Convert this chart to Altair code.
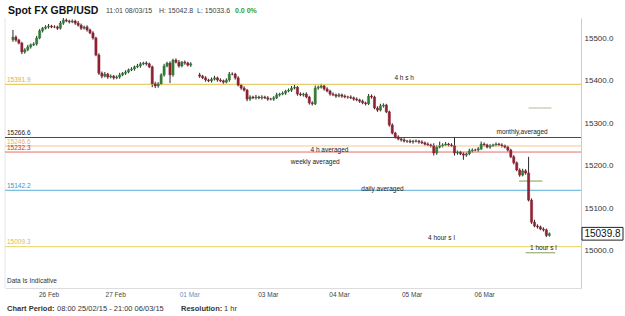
import altair as alt
import pandas as pd

# ---------------- data (hourly slots, None = weekend gap) ----------------
close = [
    15503, 15496, 15489, 15468, 15473, 15480, 15485, 15487, 15501, 15518,
    15524, 15527, 15529, 15527, 15527, 15524, 15536, 15543, 15541, 15539,
    15541, 15536, 15531, 15524, 15527, 15520, 15513, 15501, 15461, 15418,
    15411, 15416, 15409, 15411, 15407, 15409, 15414, 15418, 15421, 15426,
    15428, 15433, 15435, 15440, 15442, 15440, 15433, 15393, 15388, 15393,
    15414, 15435, 15442, 15414, 15449, 15444, 15435, 15444, 15442, 15437,
    15440, None, None, 15411, 15407, 15402, 15400, 15404, 15407, 15402,
    15400, 15397, 15402, 15416, 15416, 15407, 15390, 15383, 15378, 15357,
    15362, 15360, 15362, 15360, 15362, 15360, 15357, 15357, 15360, 15367,
    15369, 15371, 15376, 15378, 15383, 15385, 15369, 15367, 15369, 15362,
    15348, 15346, 15383, 15385, 15388, 15381, 15376, 15369, 15367, 15364,
    15367, 15364, 15362, 15362, 15360, 15357, 15355, 15352, 15348, 15346,
    15364, 15362, 15336, 15331, 15341, 15343, 15327, 15296, 15277, 15268,
    15263, 15261, 15258, 15258, 15256, 15258, 15258, 15256, 15254, 15251,
    15249, 15247, 15230, 15244, 15247, 15249, 15251, 15249, 15247, 15230,
    15232, 15228, 15225, 15228, 15235, 15237, 15237, 15240, 15251, 15249,
    15244, 15247, 15249, 15251, 15249, 15247, 15244, 15237, 15221, 15207,
    15190, 15178, 15188, 15183, 15119, 15067, 15058, 15056, 15051, 15049,
    15036, 15039.8,
]
wick_up = [
    17, 4, 3, 3, 4, 5, 3, 4, 5, 4,
    3, 4, 5, 3, 4, 3, 5, 5, 4, 3,
    4, 3, 5, 4, 3, 4, 3, 4, 3, 4,
    4, 5, 3, 4, 3, 4, 5, 3, 4, 3,
    4, 3, 5, 4, 3, 4, 3, 3, 5, 4,
    4, 5, 3, 4, 3, 4, 5, 3, 4, 3,
    4, 0, 0, 5, 3, 4, 3, 4, 5, 3,
    4, 3, 4, 5, 4, 3, 4, 3, 4, 3,
    4, 3, 5, 3, 4, 3, 4, 3, 4, 5,
    3, 4, 3, 4, 5, 6, 3, 4, 3, 4,
    3, 4, 6, 4, 5, 3, 4, 3, 4, 3,
    4, 3, 4, 3, 4, 3, 4, 3, 4, 3,
    5, 4, 3, 4, 5, 4, 3, 3, 4, 3,
    4, 3, 4, 3, 4, 3, 4, 3, 4, 3,
    4, 3, 6, 5, 10, 4, 5, 3, 4, 21,
    4, 3, 4, 3, 5, 4, 3, 4, 6, 4,
    3, 4, 3, 4, 3, 4, 3, 4, 3, 4,
    3, 4, 5, 4, 38, 4, 6, 4, 3, 4,
    3, 3,
]
wick_dn = [
    5, 4, 3, 5, 4, 3, 4, 3, 4, 3,
    4, 3, 4, 3, 3, 4, 3, 4, 3, 4,
    3, 4, 3, 4, 3, 4, 3, 4, 3, 4,
    5, 3, 4, 3, 4, 3, 4, 3, 4, 3,
    3, 4, 3, 4, 3, 4, 3, 8, 5, 4,
    3, 4, 3, 19, 4, 3, 4, 3, 4, 3,
    4, 0, 0, 4, 3, 4, 3, 4, 3, 4,
    3, 4, 3, 4, 3, 4, 3, 4, 3, 5,
    4, 3, 4, 3, 4, 3, 4, 3, 4, 3,
    4, 3, 4, 3, 4, 3, 4, 3, 4, 3,
    4, 4, 3, 4, 3, 4, 3, 4, 3, 4,
    3, 4, 3, 4, 3, 4, 3, 4, 3, 4,
    3, 4, 3, 4, 3, 4, 3, 4, 3, 4,
    3, 4, 3, 4, 3, 4, 3, 4, 3, 4,
    3, 4, 6, 4, 3, 4, 3, 4, 3, 6,
    4, 3, 11, 4, 3, 4, 3, 4, 3, 4,
    3, 4, 3, 4, 3, 4, 3, 4, 3, 4,
    3, 4, 3, 4, 3, 4, 3, 4, 3, 4,
    4, 3,
]
first_open = 15497.0
reopen = 15414.0

level_vals = [15391.9, 15266.6, 15246.6, 15232.3, 15142.2, 15009.3]
level_line_colors = ["#e2c14a", "#4a4a4a", "#f7c68e", "#e46d6d", "#5aaed6", "#e6d25a"]
level_text_colors = ["#d6b13c", "#222222", "#e8b070", "#a8442f", "#3d94c6", "#d8c04a"]
level_label_vals = [15402, 15277, 15256, 15242, 15152, 15020]

note_text = ["4 h s h", "monthly,averaged", "4 h averaged", "weekly averaged",
             "daily averaged", "4 hour s l", "1 hour s l"]
note_pos = [132, 171.8, 106.8, 102, 124.7, 144.6, 179]
note_vals = [15407, 15279.5, 15237, 15209, 15145, 15030, 15007]

seg_start = [174, 170.8, 173]
seg_end = [181.7, 178.7, 183]
seg_vals = [15336, 15164, 14995]
seg_colors = ["#b9b99c", "#7aa04a", "#8c9c5a"]

date_tick_pos = [12, 34.5, 59.5, 86, 110, 134.5, 159]
date_tick_text = ["26 Feb", "27 Feb", "01 Mar", "03 Mar", "04 Mar", "05 Mar", "06 Mar"]
y_ticks = [15000, 15100, 15200, 15300, 15400, 15500]
last_price = 15039.8

# ---------------- tables ----------------
rows = []
prev = None
for i, c in enumerate(close):
    if c is None:
        prev = None
        continue
    if i == 0:
        o = first_open
    elif prev is None:
        o = reopen
    else:
        o = prev
    rows.append({
        "i": i, "o": o, "c": c,
        "h": max(o, c) + wick_up[i], "l": min(o, c) - wick_dn[i],
        "col": "#2f7d32" if c > o else "#8e2133",
    })
    prev = c
candles = pd.DataFrame(rows)

levels = pd.DataFrame({
    "v": level_vals, "lc": level_line_colors, "tc": level_text_colors,
    "lv": level_label_vals, "t": [f"{v:.1f}" for v in level_vals],
})
notes = pd.DataFrame({"t": note_text, "i": note_pos, "v": note_vals})
segs = pd.DataFrame({"a": seg_start, "b": seg_end, "v": seg_vals, "c": seg_colors})

W, H = 576, 270
FONT = "Liberation Sans"
xs = alt.Scale(domain=[-1, 190], nice=False, zero=False)
ys = alt.Scale(domain=[14912.0, 15548.1], nice=False, zero=False)

label_expr = " : ".join(
    f"datum.value == {p} ? '{t}'" for p, t in zip(date_tick_pos, date_tick_text)
) + " : ''"

x_axis = alt.Axis(
    values=date_tick_pos, labelExpr=label_expr, title=None, grid=False,
    ticks=False, domain=True, domainColor="#dddddd", labelFontSize=6.5,
    labelPadding=3, labelFont=FONT,
    labelColor={"condition": {"test": "datum.value == 59.5", "value": "#6b8cc7"},
                "value": "#444444"},
)
y_axis = alt.Axis(
    orient="right", values=y_ticks, format=".1f", title=None, grid=False,
    ticks=False, domain=True, domainColor="#cccccc", labelFontSize=8,
    labelPadding=3, labelColor="#333333", labelFont=FONT,
)

# ---------------- layers ----------------
left_border = alt.Chart(pd.DataFrame({"k": [0]})).mark_rule(
    color="#e6e6e6", strokeWidth=1
).encode(x=alt.value(0), y=alt.value(0), y2=alt.value(H))

level_lines = alt.Chart(levels).mark_rule(strokeWidth=1).encode(
    y=alt.Y("v:Q", scale=ys, title=None),
    color=alt.Color("lc:N", scale=None),
)
level_labels = alt.Chart(levels).mark_text(
    align="left", baseline="middle", fontSize=6.5, font=FONT
).encode(
    x=alt.value(2), y=alt.Y("lv:Q", scale=ys, title=None),
    text="t:N", color=alt.Color("tc:N", scale=None),
)

seg_lines = alt.Chart(segs).mark_rule(strokeWidth=1).encode(
    x=alt.X("a:Q", scale=xs, title=None), x2="b:Q",
    y=alt.Y("v:Q", scale=ys, title=None),
    color=alt.Color("c:N", scale=None),
)

wicks = alt.Chart(candles).mark_rule(color="#2a2a2a", strokeWidth=1).encode(
    x=alt.X("i:Q", scale=xs, axis=x_axis),
    y=alt.Y("l:Q", scale=ys, axis=y_axis),
    y2="h:Q",
)
bodies = alt.Chart(candles).mark_bar(width=2.2, strokeWidth=0.5).encode(
    x=alt.X("i:Q", scale=xs, title=None),
    y=alt.Y("o:Q", scale=ys, title=None), y2="c:Q",
    fill=alt.Fill("col:N", scale=None),
    stroke=alt.Stroke("col:N", scale=None),
)

note_layer = alt.Chart(notes).mark_text(
    align="center", baseline="middle", fontSize=6.5, font=FONT, color="#222222"
).encode(
    x=alt.X("i:Q", scale=xs, title=None),
    y=alt.Y("v:Q", scale=ys, title=None), text="t:N",
)

price_df = pd.DataFrame({"p": [last_price], "t": [f"{last_price:.1f}"],
                         "p1": [last_price + 15], "p2": [last_price - 15]})
price_box = alt.Chart(price_df).mark_rect(
    fill="white", stroke="#222222", strokeWidth=1
).encode(
    x=alt.value(577), x2=alt.value(618),
    y=alt.Y("p1:Q", scale=ys, title=None), y2="p2:Q",
)
price_text = alt.Chart(price_df).mark_text(
    align="center", baseline="middle", fontSize=10, font=FONT, color="#111111"
).encode(x=alt.value(597.5), y=alt.Y("p:Q", scale=ys, title=None), text="t:N")


def txt(s, x, y, size, color="#333333", weight="normal"):
    return alt.Chart(pd.DataFrame({"t": [s]})).mark_text(
        align="left", baseline="alphabetic", fontSize=size, font=FONT,
        color=color, fontWeight=weight,
    ).encode(x=alt.value(x), y=alt.value(y), text="t:N")


header = [
    txt("Spot FX GBP/USD", 3, -4, 10.5, "#111111", "bold"),
    txt("11:01 08/03/15", 101, -5, 7, "#444444"),
    txt("H: 15042.8", 154, -5, 7, "#444444"),
    txt("L: 15033.6", 192, -5, 7, "#444444"),
    txt("0.0 0%", 230, -5, 7, "#2ea02e", "bold"),
]
footer = [
    txt("Data Is Indicative", 2, 265, 6.5, "#333333"),
    txt("Chart Period:", 2, 293, 7.5, "#333333", "bold"),
    txt("08:00 25/02/15 - 21:00 06/03/15", 52, 293, 7.5, "#333333"),
    txt("Resolution:", 176, 293, 7.5, "#333333", "bold"),
    txt("1 hr", 219, 293, 7.5, "#333333"),
]

chart = alt.layer(
    wicks, left_border, level_lines, seg_lines, bodies, level_labels,
    note_layer, price_box, price_text, *header, *footer,
).properties(
    width=W, height=H,
    autosize=alt.AutoSizeParams(type="none"),
    padding={"left": 5, "top": 18, "right": 44, "bottom": 28},
    background="white",
).configure_view(stroke=None)

chart.save("out.html", embed_options={"renderer": "svg", "actions": False})
